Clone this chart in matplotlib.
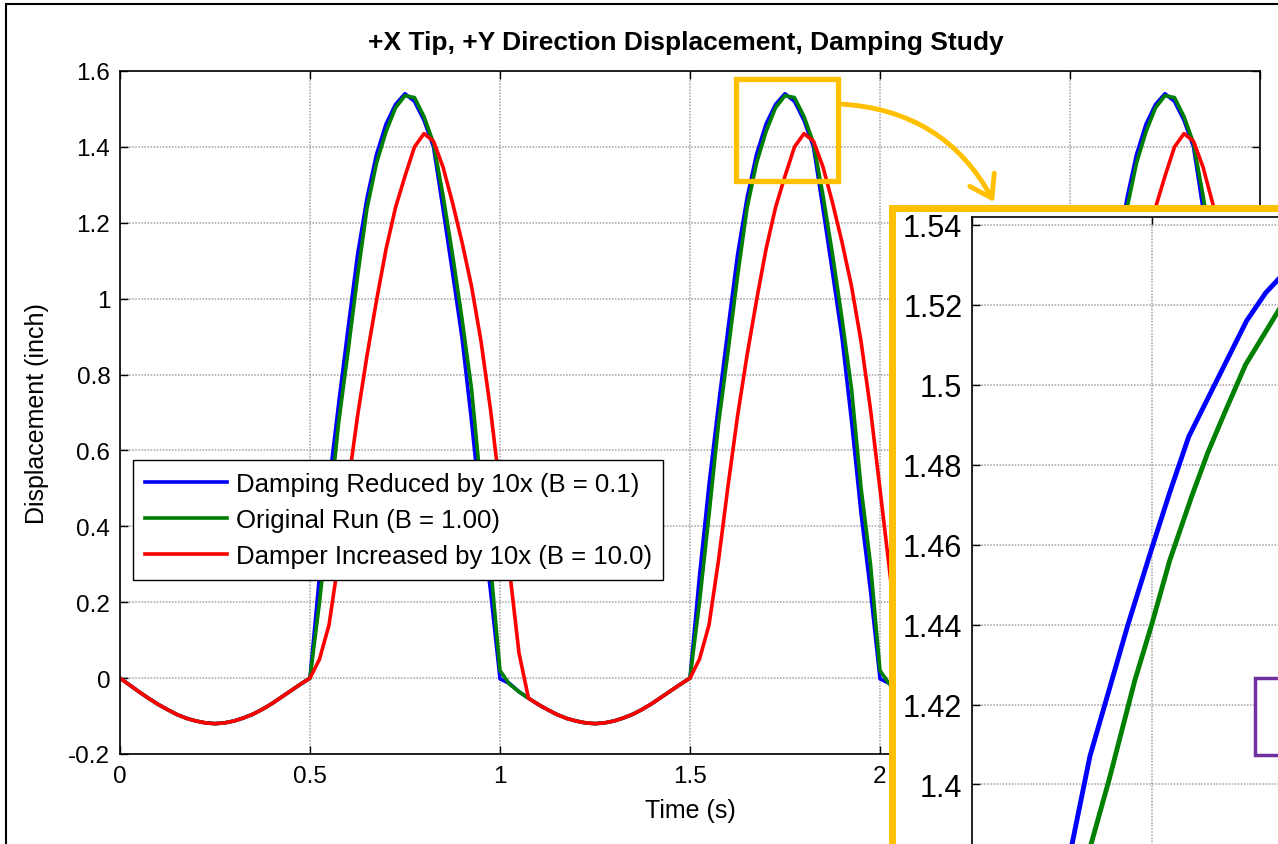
import numpy as np
import matplotlib
matplotlib.use('Agg')
import matplotlib.pyplot as plt
from matplotlib.patches import Rectangle, FancyArrowPatch

plt.rcParams['font.family'] = ['Liberation Sans', 'DejaVu Sans']

time = np.arange(121) * 0.025

blue = [
    # 0.000 - 0.475
    0.000, -0.018, -0.036, -0.053, -0.069, -0.083, -0.096, -0.106, -0.113, -0.118,
    -0.120, -0.118, -0.113, -0.105, -0.095, -0.082, -0.067, -0.050, -0.033, -0.016,
    # 0.500 - 0.975
    0.000, 0.270, 0.510, 0.720, 0.920, 1.115, 1.265, 1.380, 1.460, 1.512,
    1.540, 1.520, 1.470, 1.400, 1.237, 1.069, 0.897, 0.678, 0.435, 0.230,
    # 1.000 - 1.475
    -0.002, -0.014, -0.036, -0.053, -0.069, -0.083, -0.096, -0.106, -0.113, -0.118,
    -0.120, -0.118, -0.113, -0.105, -0.095, -0.082, -0.067, -0.050, -0.033, -0.016,
    # 1.500 - 1.975
    0.000, 0.270, 0.510, 0.720, 0.920, 1.115, 1.265, 1.380, 1.460, 1.512,
    1.540, 1.520, 1.470, 1.400, 1.237, 1.069, 0.897, 0.678, 0.435, 0.230,
    # 2.000 - 2.475
    -0.002, -0.014, -0.036, -0.053, -0.069, -0.083, -0.096, -0.106, -0.113, -0.118,
    -0.120, -0.118, -0.113, -0.105, -0.095, -0.082, -0.067, -0.050, -0.033, -0.016,
    # 2.500 - 2.975
    0.000, 0.270, 0.510, 0.720, 0.920, 1.115, 1.265, 1.380, 1.460, 1.512,
    1.540, 1.520, 1.470, 1.400, 1.237, 1.069, 0.897, 0.678, 0.435, 0.230,
    # 3.000
    -0.002,
]

green = [
    0.000, -0.018, -0.036, -0.053, -0.069, -0.083, -0.096, -0.106, -0.113, -0.118,
    -0.120, -0.118, -0.113, -0.105, -0.095, -0.082, -0.067, -0.050, -0.033, -0.016,
    0.000, 0.200, 0.430, 0.670, 0.860, 1.058, 1.238, 1.357, 1.440, 1.503,
    1.535, 1.530, 1.480, 1.410, 1.272, 1.117, 0.947, 0.763, 0.503, 0.300,
    0.020, -0.016, -0.036, -0.053, -0.069, -0.083, -0.096, -0.106, -0.113, -0.118,
    -0.120, -0.118, -0.113, -0.105, -0.095, -0.082, -0.067, -0.050, -0.033, -0.016,
    0.000, 0.200, 0.430, 0.670, 0.860, 1.058, 1.238, 1.357, 1.440, 1.503,
    1.535, 1.530, 1.480, 1.410, 1.272, 1.117, 0.947, 0.763, 0.503, 0.300,
    0.020, -0.016, -0.036, -0.053, -0.069, -0.083, -0.096, -0.106, -0.113, -0.118,
    -0.120, -0.118, -0.113, -0.105, -0.095, -0.082, -0.067, -0.050, -0.033, -0.016,
    0.000, 0.200, 0.430, 0.670, 0.860, 1.058, 1.238, 1.357, 1.440, 1.503,
    1.535, 1.530, 1.480, 1.410, 1.272, 1.117, 0.947, 0.763, 0.503, 0.300,
    0.020,
]

red = [
    0.000, -0.018, -0.036, -0.053, -0.069, -0.083, -0.096, -0.106, -0.113, -0.118,
    -0.120, -0.118, -0.113, -0.105, -0.095, -0.082, -0.067, -0.050, -0.033, -0.016,
    0.000, 0.050, 0.140, 0.310, 0.506, 0.690, 0.850, 0.995, 1.130, 1.240,
    1.323, 1.400, 1.435, 1.415, 1.347, 1.253, 1.149, 1.033, 0.888, 0.708,
    0.498, 0.285, 0.066, -0.053, -0.069, -0.083, -0.096, -0.106, -0.113, -0.118,
    -0.120, -0.118, -0.113, -0.105, -0.095, -0.082, -0.067, -0.050, -0.033, -0.016,
    0.000, 0.050, 0.140, 0.310, 0.506, 0.690, 0.850, 0.995, 1.130, 1.240,
    1.323, 1.400, 1.435, 1.415, 1.347, 1.253, 1.149, 1.033, 0.888, 0.708,
    0.498, 0.285, 0.066, -0.053, -0.069, -0.083, -0.096, -0.106, -0.113, -0.118,
    -0.120, -0.118, -0.113, -0.105, -0.095, -0.082, -0.067, -0.050, -0.033, -0.016,
    0.000, 0.050, 0.140, 0.310, 0.506, 0.690, 0.850, 0.995, 1.130, 1.240,
    1.323, 1.400, 1.435, 1.415, 1.347, 1.253, 1.149, 1.033, 0.888, 0.708,
    0.498,
]

# finer samples (second peak, rising side)
zoom_t_blue = [1.670, 1.6776, 1.6828, 1.6934, 1.700, 1.705, 1.7103, 1.7164, 1.7264, 1.7317, 1.7369, 1.745]
zoom_blue = [1.355, 1.384, 1.407, 1.440, 1.459, 1.473, 1.487, 1.498, 1.516, 1.523, 1.528, 1.537]
zoom_t_green = [1.675, 1.6828, 1.6881, 1.6953, 1.700, 1.705, 1.7111, 1.7156, 1.7203, 1.7261, 1.7322, 1.7369, 1.745]
zoom_green = [1.352, 1.384, 1.401, 1.426, 1.440, 1.456, 1.472, 1.483, 1.493, 1.505, 1.514, 1.521, 1.530]

labels = ['Damping Reduced by 10x (B = 0.1)',
          'Original Run (B = 1.00)',
          'Damper Increased by 10x (B = 10.0)']
colors = ['#0000ff', '#008000', '#ff0000']

x_ticks = [0, 0.5, 1, 1.5, 2, 2.5, 3]
x_ticklabels = ['0', '0.5', '1', '1.5', '2', '2.5', '3']
y_ticks = [-0.2, 0, 0.2, 0.4, 0.6, 0.8, 1.0, 1.2, 1.4, 1.6]
y_ticklabels = ['-0.2', '0', '0.2', '0.4', '0.6', '0.8', '1', '1.2', '1.4', '1.6']
zoom_y_ticks = [1.40, 1.42, 1.44, 1.46, 1.48, 1.50, 1.52, 1.54]
zoom_y_ticklabels = ['1.4', '1.42', '1.44', '1.46', '1.48', '1.5', '1.52', '1.54']

# ---- layout helpers (pixel positions of the 1278x845 picture) ----
W, H = 1278, 845


def box(l, t, r, b):
    return [l / W, 1 - b / H, (r - l) / W, (b - t) / H]


def pt(x, y):
    return (x / W, 1 - y / H)


fig = plt.figure(figsize=(W / 100, H / 100), dpi=100)

ax = fig.add_axes(box(120, 72, 1260, 755))
for vals, c, lab in zip([blue, green, red], colors, labels):
    ax.plot(time, vals, color=c, lw=2.6, label=lab)
ax.set_xlim(0, 3)
ax.set_ylim(-0.2, 1.6)
ax.set_xticks(x_ticks)
ax.set_xticklabels(x_ticklabels)
ax.set_yticks(y_ticks)
ax.set_yticklabels(y_ticklabels)
ax.grid(True, linestyle=(0, (1, 1)), color='#a0a0a0', lw=1.1)
ax.tick_params(direction='in', top=True, right=True, length=6, width=1,
               labelsize=17.5)
ax.tick_params(axis='x', pad=8)
ax.tick_params(axis='y', pad=7)
for s in ax.spines.values():
    s.set_linewidth(1.2)
ax.set_xlabel('Time (s)', fontsize=18)
ax.set_ylabel('Displacement (inch)', fontsize=18)
ax.xaxis.set_label_coords(0.5, -0.064)
ax.yaxis.set_label_coords(-0.062, 0.5)

leg = ax.legend(loc='upper left', bbox_to_anchor=(0.0114, 0.4305),
                borderaxespad=0, fontsize=18.5, fancybox=False,
                edgecolor='black', framealpha=1, handlelength=3.2,
                handletextpad=0.35, labelspacing=0.48, borderpad=0.45)
leg.get_frame().set_linewidth(1.0)

fig.text(686 / W, 1 - 43 / H, '+X Tip, +Y Direction Displacement, Damping Study',
         ha='center', va='center', fontsize=19, fontweight='bold')

# yellow frame of the zoom view (white inside)
frame = Rectangle(pt(891.5, 1000), (1500 - 891.5) / W, (1000 - 208.5) / H,
                  transform=fig.transFigure, facecolor='white',
                  edgecolor='#FFC000', lw=5, zorder=1)
fig.add_artist(frame)

# zoomed inset
ax2 = fig.add_axes(box(972, 218, 1400, 1000), zorder=2)
ax2.plot(zoom_t_blue, zoom_blue, color=colors[0], lw=3.5)
ax2.plot(zoom_t_green, zoom_green, color=colors[1], lw=3.5)
ax2.plot(time, red, color=colors[2], lw=3.5)
ax2.set_xlim(1.6562, 1.7691)
ax2.set_ylim(1.3463, 1.542)
ax2.set_xticks([1.65, 1.70, 1.75])
ax2.set_yticks(zoom_y_ticks)
ax2.set_yticklabels(zoom_y_ticklabels)
ax2.grid(True, linestyle=(0, (1, 1)), color='#a0a0a0', lw=1.1)
ax2.tick_params(direction='in', top=True, right=True, length=6, width=1,
                labelsize=22, pad=7, labelbottom=False)
for s in ax2.spines.values():
    s.set_linewidth(1.2)

# small box marking the zoomed region, and the arrow to the inset
mark = Rectangle(pt(735.5, 182), (838 - 735.5) / W, (182 - 80) / H,
                 transform=fig.transFigure, facecolor='none',
                 edgecolor='#FFC000', lw=3.8, zorder=3)
fig.add_artist(mark)
arrow = FancyArrowPatch(pt(840, 105), pt(994, 203), transform=fig.transFigure,
                        connectionstyle='arc3,rad=-0.28',
                        arrowstyle='->,head_length=0.75,head_width=0.5',
                        mutation_scale=20, color='#FFC000', lw=3.5,
                        shrinkA=0, shrinkB=0, zorder=3)
fig.add_artist(arrow)

# purple box inside the inset (cut off at the edge)
purple = Rectangle(pt(1254.5, 756), (1400 - 1254.5) / W, (756 - 679) / H,
                   transform=fig.transFigure, facecolor='white',
                   edgecolor='#7030A0', lw=2.5, zorder=4)
fig.add_artist(purple)

# outer border of the picture
border = Rectangle(pt(6, 1000), (1500 - 6) / W, (1000 - 5) / H,
                   transform=fig.transFigure, facecolor='none',
                   edgecolor='black', lw=1.5, zorder=5)
fig.add_artist(border)

fig.savefig('out.png', dpi=100)
